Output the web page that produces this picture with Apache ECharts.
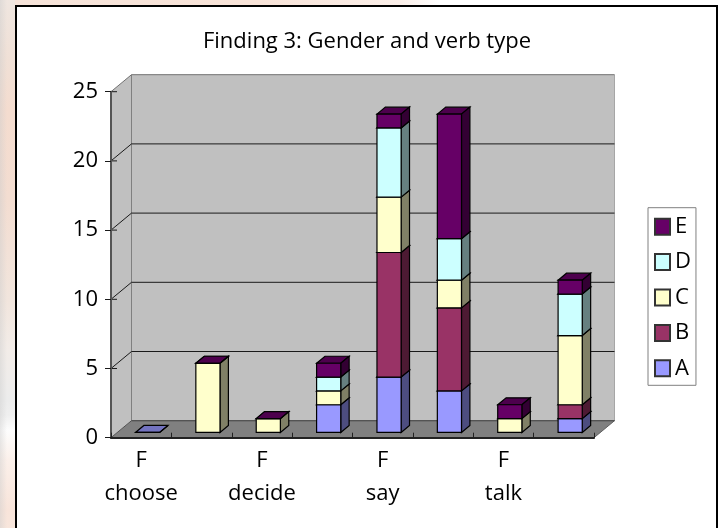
<!DOCTYPE html>
<html>
<head>
<meta charset="utf-8">
<style>
  html, body { margin: 0; padding: 0; width: 721px; height: 528px; overflow: hidden; background: #fff; }
  /* Page wallpaper showing around the chart frame */
  #paper { position: absolute; left: 0; top: 0; width: 721px; height: 528px;
    background:
      linear-gradient(90deg, rgba(205,205,205,0.45) 0, rgba(205,205,205,0) 7px, rgba(255,255,255,0) 15px),
      linear-gradient(180deg, #efe6e0 0, #f0e0d6 60px, #f4dccf 110px, #f3ddd1 200px, #f1e5dd 300px, #f2ece8 350px, #ececec 400px, #efefef 415px, #fdfdfd 430px, #fbf0ea 460px, #f8e4da 510px, #f8e6dc 528px) 0 0 / 15px 528px no-repeat,
      linear-gradient(90deg, #f6e3d9 0, #f8e3d8 260px, #fbefe9 400px, #ffffff 440px) 0 0 / 721px 5px no-repeat,
      #fff; }
  #frame { position: absolute; left: 15px; top: 5px; width: 699px; height: 530px; background: #fff;
    border: 2px solid #000; }
  #chart { position: absolute; left: 0; top: 0; width: 721px; height: 528px; }
</style>
</head>
<body>
<div id="paper"></div>
<div id="frame"></div>
<div id="chart"></div>
<script src="https://cdn.jsdelivr.net/npm/echarts@6/dist/echarts.min.js"></script>
<script>
// Verb-type counts per speaker group; only the F columns carry an axis label.
const categories = ['F\nchoose', '', 'F\ndecide', '', 'F\nsay', '', 'F\ntalk', ''];
const yTicks = [0, 5, 10, 15, 20, 25];
const seriesA = [0, null, null, 2, 4, 3, null, 1];
const seriesB = [null, null, null, null, 9, 6, null, 1];
const seriesC = [null, 5, 1, 1, 4, 2, 1, 5];
const seriesD = [null, null, null, 1, 5, 3, null, 3];
const seriesE = [null, 0, 0, 1, 1, 9, 1, 1];

const names = ['A', 'B', 'C', 'D', 'E'];
const values = [seriesA, seriesB, seriesC, seriesD, seriesE];
const fronts = ['#9999ff', '#993366', '#ffffcc', '#ccffff', '#660066'];
const tops = ['#7373c0', '#73264d', '#c0c099', '#99c0c0', '#4d004d'];
const sides = ['#4d4d80', '#4d1a33', '#808066', '#668080', '#330033'];
const FONT = '"Open Sans"';

// Oblique projection: how far the back wall is shifted from the front plane.
const DEPTH_X = 20.5, DEPTH_Y = -17;
// Bars occupy this slice of the chart depth, and this share of a category band.
const BAR_NEAR = 0.31, BAR_FAR = 0.72, BAR_SHARE = 0.4;
const EDGE = '#000';

function poly(points, fill, stroke, width) {
  return { type: 'polygon', shape: { points: points },
    style: { fill: fill, stroke: stroke || null, lineWidth: width === undefined ? 1 : width } };
}
function seg(x1, y1, x2, y2, stroke, width) {
  return { type: 'line', shape: { x1: x1, y1: y1, x2: x2, y2: y2 },
    style: { stroke: stroke, lineWidth: width || 1 } };
}

// Side wall, back wall, floor and the gridlines that wrap around them.
function renderWalls(params, api) {
  const cs = params.coordSys;
  const x0 = cs.x, x1 = cs.x + cs.width;
  const y0 = api.coord([0, 0])[1], yTop = api.coord([0, yTicks[yTicks.length - 1]])[1];
  const children = [
    poly([[x0 + DEPTH_X, yTop + DEPTH_Y], [x1 + DEPTH_X, yTop + DEPTH_Y], [x1 + DEPTH_X, y0 + DEPTH_Y], [x0 + DEPTH_X, y0 + DEPTH_Y]], '#c0c0c0'),
    poly([[x0, yTop], [x0 + DEPTH_X, yTop + DEPTH_Y], [x0 + DEPTH_X, y0 + DEPTH_Y], [x0, y0]], '#c0c0c0'),
    poly([[x0, y0], [x0 + DEPTH_X, y0 + DEPTH_Y], [x1 + DEPTH_X, y0 + DEPTH_Y], [x1, y0]], '#808080'),
    seg(x0 + DEPTH_X, yTop + DEPTH_Y, x0 + DEPTH_X, y0 + DEPTH_Y, '#808080'),
    seg(x1 + DEPTH_X, yTop + DEPTH_Y, x1 + DEPTH_X, y0 + DEPTH_Y, '#a6a6a6'),
    seg(x1, y0, x1 + DEPTH_X, y0 + DEPTH_Y, '#606060'),
    seg(x0 + DEPTH_X, y0 + DEPTH_Y, x1 + DEPTH_X, y0 + DEPTH_Y, '#505050')
  ];
  yTicks.forEach(function (t) {
    const y = api.coord([0, t])[1];
    const last = t === yTicks[yTicks.length - 1];
    const floor = t === 0;
    const colour = last ? '#707070' : floor ? '#505050' : '#1a1a1a';
    children.push(seg(x0, y, x0 + DEPTH_X, y + DEPTH_Y, colour));
    children.push(seg(x0 + DEPTH_X, y + DEPTH_Y, x1 + DEPTH_X, y + DEPTH_Y, colour));
    children.push(seg(x0, y, x0 + 6, y, '#1a1a1a'));
  });
  return { type: 'group', children: children };
}

// One segment of a stacked bar, drawn as front, side and top faces.
function renderBlock(s) {
  return function (params, api) {
    const cat = api.value(0);
    const band = api.size([1, 0])[0];
    const cx = api.coord([cat, 0])[0];
    const w = band * BAR_SHARE;
    const dx = DEPTH_X * (BAR_FAR - BAR_NEAR), dy = DEPTH_Y * (BAR_FAR - BAR_NEAR);
    // The front face is centred in its band, then pushed back to the bars' depth.
    const left = cx - w / 2 + DEPTH_X * BAR_NEAR, right = left + w;
    const lift = DEPTH_Y * BAR_NEAR;
    const yb = api.coord([cat, api.value(1)])[1] + lift;
    const yt = api.coord([cat, api.value(2)])[1] + lift;
    return { type: 'group', children: [
      poly([[left, yt], [left + dx, yt + dy], [right + dx, yt + dy], [right, yt]], tops[s], EDGE, 1.2),
      poly([[right, yb], [right + dx, yb + dy], [right + dx, yt + dy], [right, yt]], sides[s], EDGE, 1.2),
      poly([[left, yb], [right, yb], [right, yt], [left, yt]], fronts[s], EDGE, 1.2)
    ] };
  };
}

// Running totals give each segment its base and top value.
const running = categories.map(function () { return 0; });
const barSeries = names.map(function (name, s) {
  const data = [];
  values[s].forEach(function (v, i) {
    if (v === null) return;
    data.push([i, running[i], running[i] + v]);
    running[i] += v;
  });
  return {
    type: 'custom', name: name, data: data, z: 3 + s, clip: false, silent: true,
    encode: { x: 0, y: 2 }, renderItem: renderBlock(s),
    itemStyle: { color: fronts[s], borderColor: '#333', borderWidth: 1 }
  };
});

const chart = echarts.init(document.getElementById('chart'), null, { renderer: 'canvas' });
chart.setOption({
  animation: false,
  backgroundColor: 'transparent',
  textStyle: { fontFamily: FONT, color: '#000' },
  title: {
    text: 'Finding 3: Gender and verb type', left: 362, top: 26, textAlign: 'center',
    textStyle: { fontFamily: FONT, fontSize: 22, fontWeight: 'normal', color: '#000' }
  },
  legend: {
    orient: 'vertical', left: 648, top: 207.7, padding: [8, 5, 6, 6], itemGap: 13.4,
    itemWidth: 15, itemHeight: 16, icon: 'rect', data: ['E', 'D', 'C', 'B', 'A'],
    backgroundColor: '#fff', borderColor: '#808080', borderWidth: 1,
    textStyle: { fontFamily: FONT, fontSize: 22, color: '#000', lineHeight: 20 },
    selectedMode: false
  },
  grid: { left: 111, right: 127, top: 91.7, bottom: 90.3 },
  xAxis: {
    type: 'category', data: categories, boundaryGap: true, z: 8,
    axisLine: { lineStyle: { color: '#222', width: 2 } },
    axisTick: { show: true, inside: true, length: 5, interval: 0, lineStyle: { color: '#222' } },
    axisLabel: { interval: 0, margin: 7, fontFamily: FONT, fontSize: 22, lineHeight: 33, color: '#000' }
  },
  yAxis: {
    type: 'value', min: 0, max: 25, interval: 5, z: 8,
    splitLine: { show: false },
    axisLine: { show: true, lineStyle: { color: '#555', width: 2 } },
    axisTick: { show: true, length: 6, lineStyle: { color: '#1a1a1a' } },
    axisLabel: { margin: 13, fontFamily: FONT, fontSize: 22, color: '#000' }
  },
  series: [{
    type: 'custom', name: 'walls', data: [[0, 0]], z: 1, clip: false, silent: true,
    encode: { x: 0, y: 1 }, renderItem: renderWalls
  }].concat(barSeries)
});
</script>
</body>
</html>
